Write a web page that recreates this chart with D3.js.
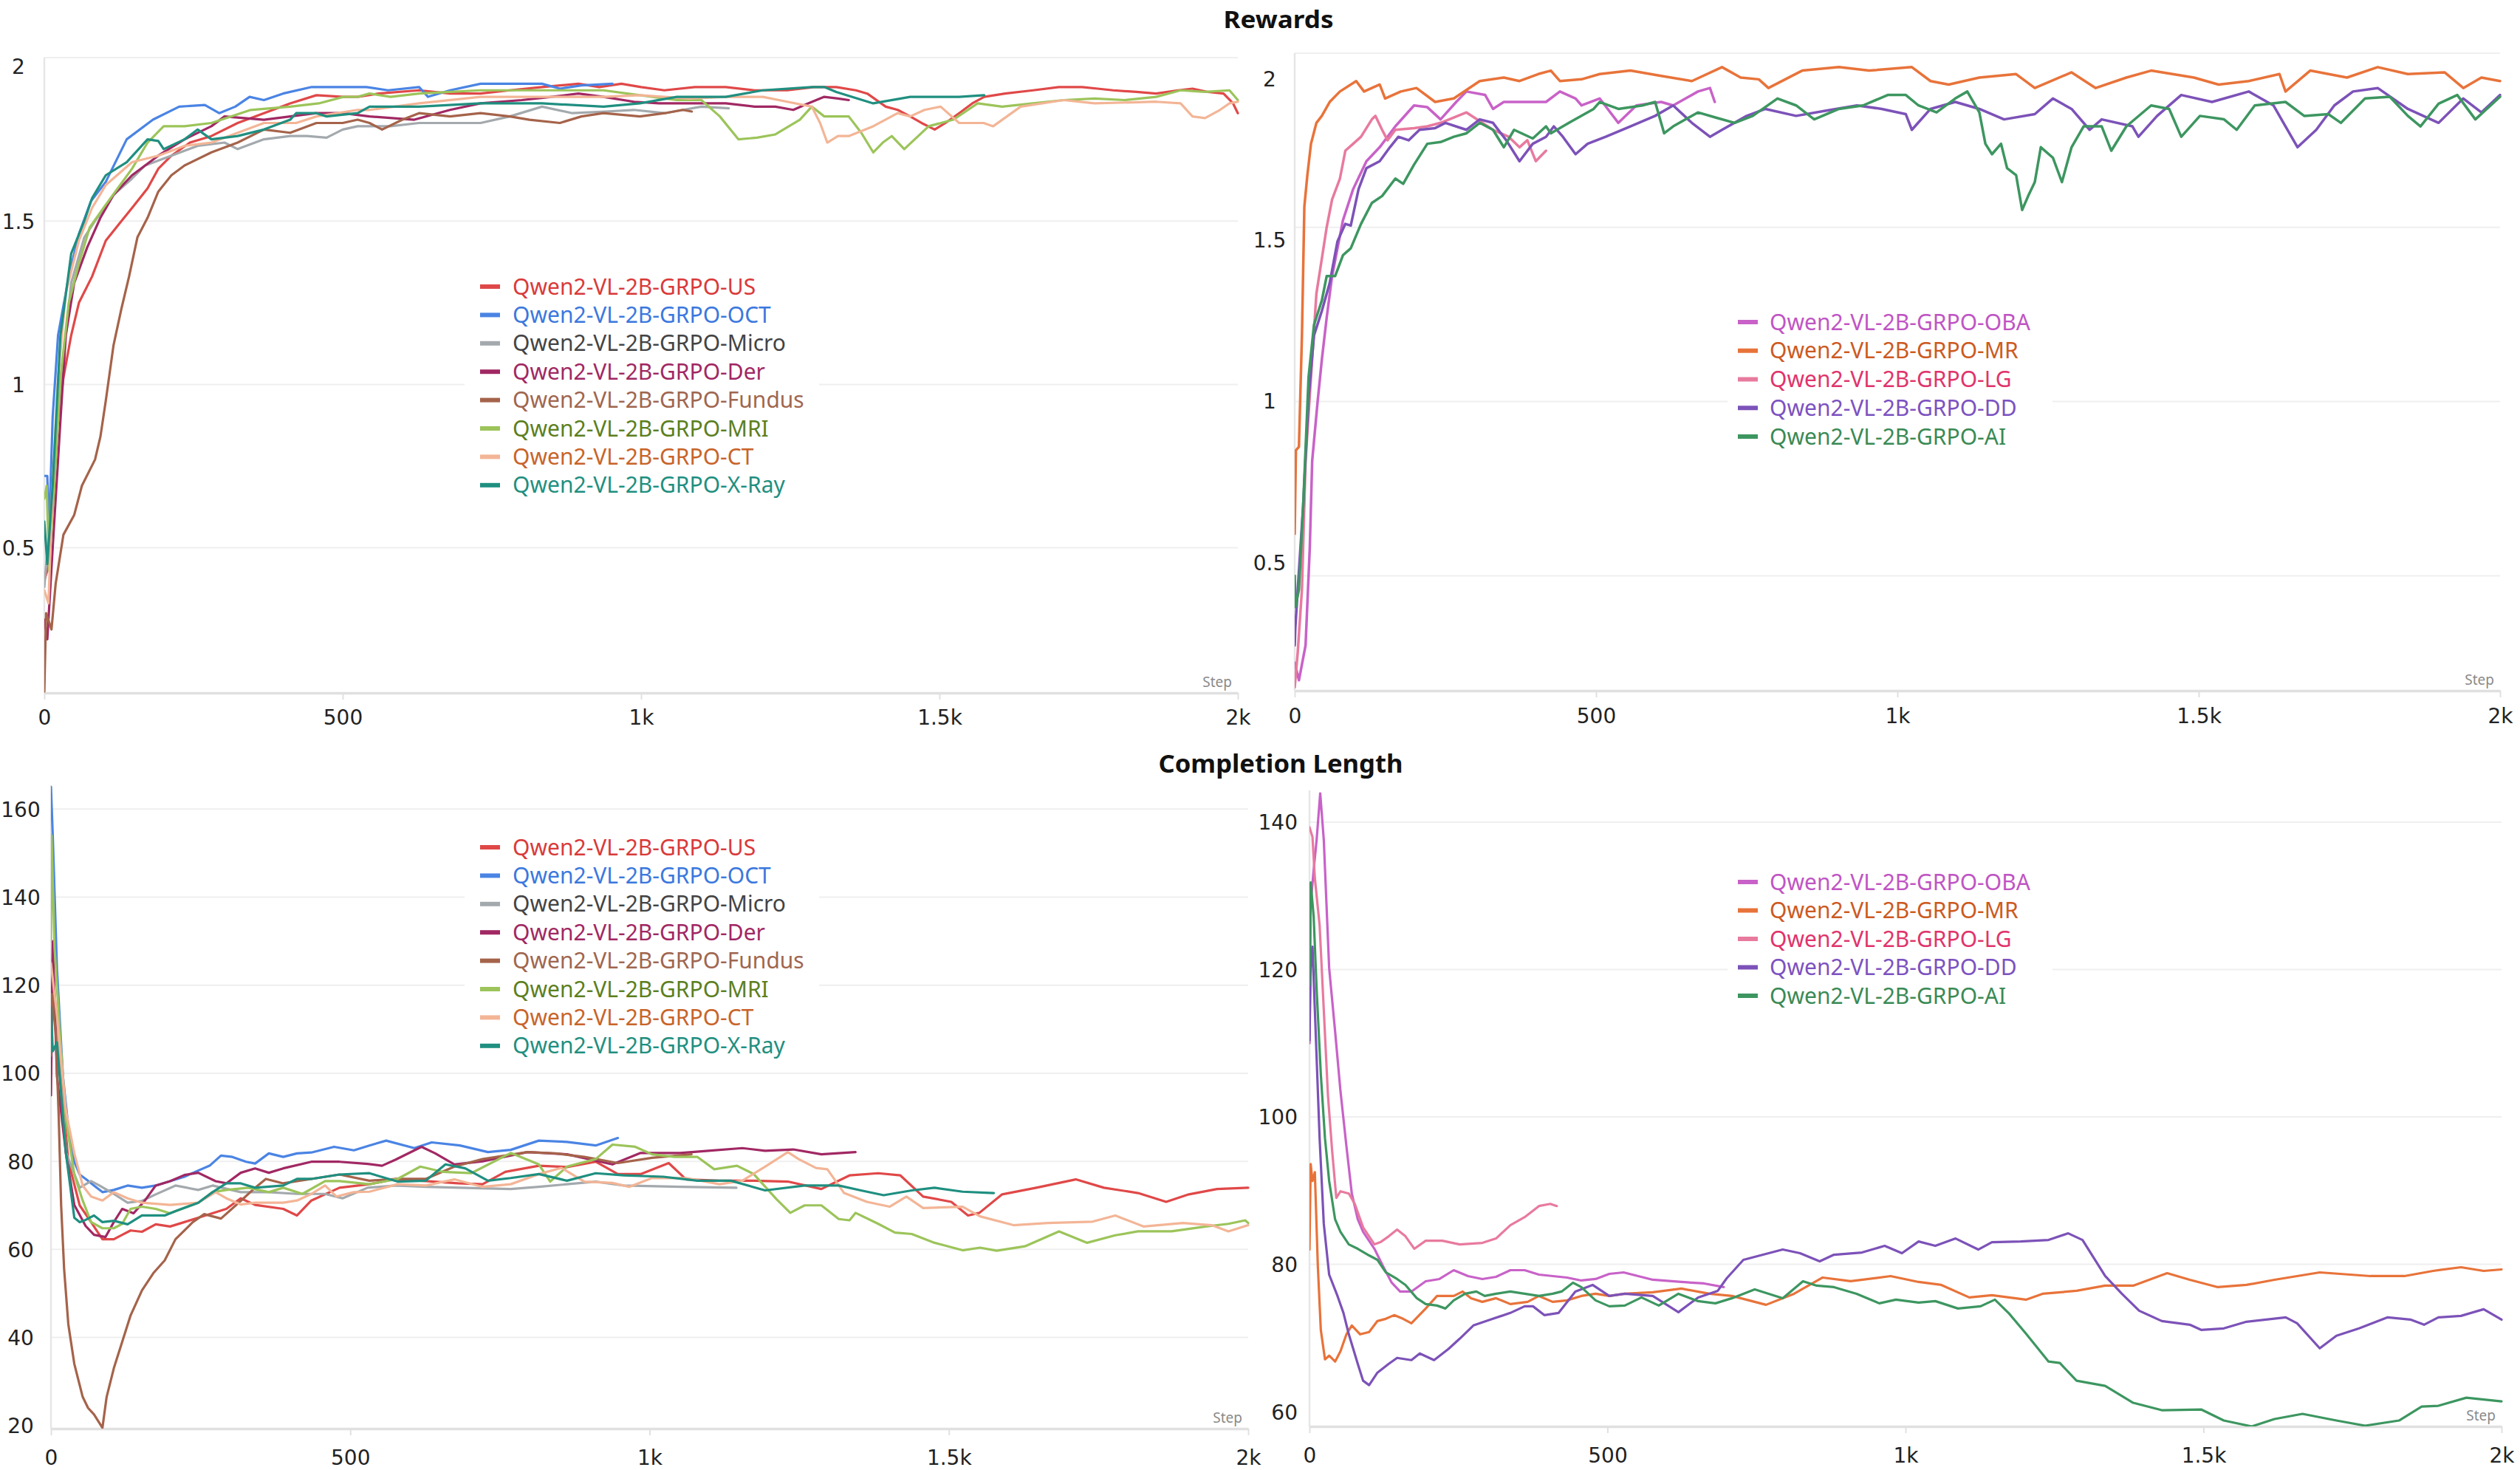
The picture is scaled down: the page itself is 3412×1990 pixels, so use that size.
<!DOCTYPE html>
<html><head><meta charset="utf-8">
<script src="https://cdn.jsdelivr.net/npm/d3@7"></script>
<style>html,body{margin:0;padding:0;background:#fff;}svg{display:block;}</style>
</head><body>
<script>
// ---------- DATA ----------
const stepTicks = [0, 500, 1000, 1500, 2000];
const rewardTicksL = [0.5, 1, 1.5, 2];
const rewardTicksR = [0.5, 1, 1.5, 2];
const lengthTicksL = [20, 40, 60, 80, 100, 120, 140, 160];
const lengthTicksR = [60, 80, 100, 120, 140];

const namesL = ["Qwen2-VL-2B-GRPO-US","Qwen2-VL-2B-GRPO-OCT","Qwen2-VL-2B-GRPO-Micro","Qwen2-VL-2B-GRPO-Der","Qwen2-VL-2B-GRPO-Fundus","Qwen2-VL-2B-GRPO-MRI","Qwen2-VL-2B-GRPO-CT","Qwen2-VL-2B-GRPO-X-Ray"];
const namesR = ["Qwen2-VL-2B-GRPO-OBA","Qwen2-VL-2B-GRPO-MR","Qwen2-VL-2B-GRPO-LG","Qwen2-VL-2B-GRPO-DD","Qwen2-VL-2B-GRPO-AI"];
const lineColorsL = ["#e04848","#4a84e4","#a3a9ad","#a12863","#a5634a","#9cc45a","#f3b596","#1f8f80"];
const textColorsL = ["#d93a3a","#3b78de","#444444","#a12863","#a0664f","#5c7f1e","#c8642a","#1f8f80"];
const lineColorsR = ["#c862c8","#e8733a","#e87a9e","#7c52b8","#3d9660"];
const textColorsR = ["#bf55c4","#cc5a1f","#e0346c","#7c52c0","#3a8a55"];

// Rewards, left panel
const rewUS = [[0,0.4],[8,0.45],[20,0.85],[32,1.02],[45,1.15],[58,1.25],[80,1.33],[103,1.44],[125,1.49],[147,1.54],[173,1.6],[191,1.66],[213,1.70],[244,1.74],[280,1.76],[324,1.80],[368,1.83],[412,1.86],[456,1.885],[501,1.88],[525,1.88],[560,1.89],[628,1.90],[680,1.89],[731,1.89],[780,1.9],[834,1.91],[895,1.92],[930,1.91],[967,1.92],[1000,1.91],[1039,1.90],[1090,1.91],[1142,1.91],[1190,1.90],[1245,1.90],[1290,1.91],[1327,1.91],[1360,1.90],[1379,1.89],[1410,1.85],[1430,1.84],[1451,1.82],[1470,1.80],[1492,1.78],[1510,1.80],[1533,1.83],[1555,1.86],[1575,1.88],[1610,1.89],[1657,1.90],[1700,1.91],[1739,1.91],[1765,1.905],[1791,1.90],[1830,1.895],[1863,1.89],[1900,1.90],[1924,1.905],[1950,1.895],[1976,1.89],[1992,1.86],[2000,1.83]];
const rewOCT = [[0,0.72],[5,0.72],[8,0.55],[14,0.9],[23,1.15],[41,1.33],[58,1.46],[78,1.56],[103,1.62],[138,1.75],[182,1.81],[226,1.85],[269,1.855],[293,1.83],[320,1.85],[344,1.88],[368,1.87],[400,1.89],[448,1.91],[501,1.91],[540,1.91],[576,1.90],[628,1.91],[643,1.88],[680,1.90],[731,1.92],[782,1.92],[834,1.92],[864,1.905],[900,1.915],[952,1.92]];
const rewMicro = [[0,0.38],[10,0.6],[20,0.85],[32,1.08],[45,1.31],[67,1.45],[85,1.50],[116,1.58],[147,1.63],[169,1.67],[213,1.70],[257,1.73],[302,1.74],[324,1.72],[368,1.75],[412,1.76],[440,1.76],[473,1.755],[500,1.78],[525,1.79],[580,1.79],[628,1.80],[680,1.80],[731,1.80],[780,1.82],[834,1.85],[885,1.83],[940,1.835],[988,1.84],[1039,1.83],[1101,1.85],[1147,1.845]];
const rewDer = [[0,0.28],[5,0.22],[14,0.5],[27,0.89],[36,1.15],[50,1.31],[72,1.42],[94,1.51],[116,1.58],[147,1.64],[191,1.70],[235,1.75],[280,1.79],[302,1.82],[368,1.81],[456,1.83],[500,1.83],[545,1.82],[620,1.81],[680,1.84],[731,1.86],[800,1.87],[850,1.88],[895,1.89],[937,1.88],[988,1.865],[1030,1.86],[1080,1.86],[1142,1.86],[1190,1.85],[1225,1.85],[1255,1.84],[1280,1.86],[1307,1.88],[1330,1.875],[1348,1.87]];
const rewFundus = [[0,0.06],[3,0.30],[12,0.25],[19,0.39],[32,0.54],[50,0.60],[63,0.69],[85,0.77],[94,0.84],[103,0.95],[116,1.12],[129,1.23],[142,1.33],[156,1.45],[173,1.51],[191,1.59],[213,1.64],[235,1.67],[280,1.71],[324,1.74],[368,1.78],[412,1.77],[456,1.80],[500,1.80],[525,1.81],[545,1.80],[566,1.78],[600,1.81],[628,1.83],[680,1.82],[731,1.83],[780,1.82],[813,1.81],[864,1.80],[900,1.82],[937,1.83],[998,1.82],[1040,1.83],[1070,1.84],[1085,1.835]];
const rewMRI = [[0,0.65],[4,0.69],[8,0.43],[19,0.76],[27,1.02],[41,1.25],[58,1.37],[76,1.48],[103,1.55],[147,1.66],[173,1.74],[200,1.79],[235,1.79],[280,1.80],[346,1.84],[412,1.85],[460,1.86],[501,1.88],[525,1.88],[545,1.89],[580,1.88],[628,1.89],[680,1.895],[731,1.90],[834,1.90],[937,1.90],[998,1.885],[1060,1.87],[1101,1.87],[1132,1.82],[1163,1.75],[1194,1.755],[1225,1.765],[1266,1.81],[1286,1.85],[1307,1.82],[1348,1.82],[1369,1.77],[1389,1.71],[1405,1.74],[1420,1.76],[1441,1.72],[1482,1.79],[1523,1.81],[1564,1.86],[1605,1.85],[1657,1.86],[1708,1.87],[1760,1.875],[1811,1.87],[1863,1.88],[1904,1.90],[1945,1.895],[1986,1.90],[2000,1.87]];
const rewCT = [[0,0.37],[7,0.33],[14,0.69],[23,1.02],[36,1.28],[58,1.44],[80,1.54],[103,1.61],[147,1.68],[191,1.70],[235,1.73],[280,1.74],[324,1.77],[368,1.80],[422,1.80],[456,1.82],[525,1.84],[545,1.84],[628,1.86],[731,1.88],[834,1.88],[937,1.88],[998,1.885],[1080,1.875],[1142,1.88],[1204,1.88],[1245,1.865],[1286,1.85],[1300,1.80],[1312,1.74],[1330,1.76],[1348,1.76],[1389,1.79],[1430,1.83],[1451,1.82],[1475,1.84],[1502,1.85],[1533,1.80],[1574,1.80],[1590,1.79],[1636,1.85],[1708,1.87],[1760,1.86],[1863,1.865],[1904,1.86],[1924,1.82],[1945,1.815],[1970,1.84],[1986,1.86],[2000,1.865]];
const rewXRay = [[0,0.58],[5,0.45],[14,0.69],[27,1.15],[45,1.40],[67,1.50],[80,1.57],[103,1.64],[138,1.68],[173,1.75],[191,1.745],[200,1.72],[235,1.75],[257,1.78],[280,1.75],[324,1.76],[368,1.78],[412,1.81],[422,1.83],[456,1.83],[473,1.82],[525,1.83],[545,1.85],[628,1.85],[731,1.86],[834,1.86],[937,1.85],[998,1.86],[1060,1.88],[1142,1.88],[1204,1.90],[1286,1.91],[1307,1.91],[1327,1.895],[1389,1.86],[1451,1.88],[1533,1.88],[1575,1.885]];

// Rewards, right panel
const rewOBA = [[0,0.25],[7,0.20],[18,0.30],[25,0.58],[29,0.83],[38,1.0],[45,1.12],[53,1.24],[62,1.36],[80,1.52],[97,1.61],[119,1.69],[141,1.73],[167,1.79],[198,1.85],[220,1.845],[242,1.81],[268,1.86],[285,1.89],[316,1.88],[329,1.84],[347,1.86],[373,1.86],[417,1.86],[440,1.89],[466,1.87],[476,1.85],[506,1.87],[537,1.80],[567,1.85],[608,1.86],[628,1.85],[669,1.89],[689,1.90],[697,1.86]];
const rewMR = [[0,0.62],[2,0.86],[7,0.87],[12,1.19],[16,1.56],[21,1.65],[27,1.74],[36,1.80],[45,1.82],[58,1.86],[75,1.89],[102,1.92],[115,1.89],[141,1.91],[150,1.87],[176,1.89],[202,1.90],[233,1.86],[264,1.87],[307,1.92],[347,1.93],[373,1.92],[404,1.94],[425,1.95],[440,1.92],[476,1.925],[506,1.94],[557,1.95],[608,1.935],[659,1.92],[709,1.96],[740,1.93],[770,1.925],[786,1.90],[842,1.95],[903,1.96],[953,1.95],[1024,1.96],[1055,1.92],[1085,1.91],[1136,1.93],[1197,1.94],[1228,1.90],[1289,1.945],[1329,1.90],[1380,1.93],[1421,1.95],[1492,1.93],[1533,1.91],[1583,1.92],[1634,1.94],[1644,1.89],[1685,1.95],[1746,1.93],[1797,1.96],[1847,1.94],[1908,1.945],[1939,1.90],[1969,1.93],[2000,1.92]];
const rewLG = [[0,0.18],[5,0.28],[12,0.46],[18,0.83],[27,1.07],[36,1.31],[45,1.41],[53,1.50],[62,1.58],[75,1.64],[84,1.72],[97,1.74],[110,1.76],[128,1.81],[134,1.82],[145,1.78],[154,1.75],[167,1.78],[198,1.785],[220,1.79],[242,1.80],[285,1.83],[329,1.78],[355,1.76],[373,1.73],[386,1.75],[400,1.69],[417,1.72]];
const rewDD = [[0,0.30],[1,0.35],[5,0.46],[14,0.70],[23,1.01],[32,1.19],[45,1.26],[58,1.34],[71,1.46],[84,1.51],[93,1.505],[106,1.61],[119,1.67],[141,1.69],[158,1.73],[172,1.76],[189,1.75],[207,1.78],[233,1.785],[250,1.80],[285,1.78],[307,1.81],[329,1.80],[351,1.75],[373,1.69],[395,1.74],[417,1.76],[430,1.79],[445,1.76],[466,1.71],[486,1.74],[516,1.76],[557,1.79],[598,1.82],[628,1.85],[659,1.80],[689,1.76],[709,1.78],[750,1.82],[781,1.84],[832,1.82],[882,1.835],[933,1.85],[974,1.84],[1014,1.825],[1024,1.78],[1055,1.84],[1096,1.86],[1136,1.84],[1177,1.81],[1228,1.825],[1258,1.87],[1289,1.84],[1319,1.78],[1339,1.81],[1390,1.79],[1400,1.76],[1431,1.82],[1471,1.88],[1522,1.86],[1583,1.89],[1624,1.85],[1644,1.79],[1664,1.73],[1695,1.78],[1725,1.85],[1756,1.89],[1797,1.90],[1847,1.84],[1898,1.80],[1939,1.87],[1969,1.83],[2000,1.88]];
const rewAI = [[0,0.50],[1,0.41],[7,0.46],[14,0.70],[23,1.07],[32,1.22],[45,1.29],[53,1.36],[67,1.36],[80,1.42],[93,1.44],[110,1.51],[128,1.57],[145,1.59],[167,1.64],[180,1.625],[198,1.68],[220,1.74],[242,1.745],[264,1.76],[285,1.77],[307,1.80],[329,1.78],[347,1.73],[364,1.78],[395,1.755],[417,1.79],[425,1.77],[455,1.80],[496,1.84],[506,1.86],[537,1.84],[577,1.85],[598,1.86],[613,1.77],[628,1.79],[669,1.83],[699,1.815],[730,1.80],[760,1.82],[801,1.87],[832,1.85],[862,1.81],[903,1.84],[943,1.85],[984,1.88],[1014,1.88],[1035,1.85],[1065,1.83],[1096,1.87],[1116,1.89],[1136,1.83],[1146,1.74],[1157,1.71],[1172,1.74],[1182,1.67],[1197,1.65],[1207,1.55],[1217,1.59],[1228,1.63],[1238,1.73],[1258,1.70],[1273,1.63],[1289,1.73],[1309,1.79],[1339,1.79],[1355,1.72],[1380,1.79],[1421,1.85],[1451,1.84],[1471,1.76],[1502,1.82],[1542,1.81],[1563,1.78],[1593,1.85],[1644,1.86],[1675,1.82],[1715,1.825],[1736,1.80],[1776,1.87],[1817,1.875],[1847,1.82],[1868,1.79],[1898,1.855],[1929,1.88],[1959,1.81],[2000,1.875]];

// Completion length, left panel
const lenUS = [[0,112],[3,115],[10,109],[29,80],[48,70],[67,66.2],[86,62.3],[105,62.3],[119,63.3],[133,64.3],[152,64],[175,65.7],[199,65.2],[223,66.2],[246,67.2],[293,69.2],[317,71.6],[341,70.1],[388,69.2],[411,67.7],[435,71.1],[482,74],[532,74.8],[576,76],[626,75.5],[680,75],[721,74.8],[759,77.6],[815,79],[862,78.7],[910,79.9],[947,77.1],[985,77.1],[1032,79.6],[1061,75.9],[1117,75.6],[1174,75.6],[1231,75.4],[1287,73.7],[1334,76.8],[1382,77.3],[1419,76.8],[1457,72],[1504,70.8],[1532,67.7],[1551,68.3],[1589,72.5],[1646,74],[1712,75.9],[1759,74],[1816,72.8],[1863,70.8],[1901,72.5],[1948,73.7],[2000,74]];
const lenOCT = [[0,165],[3,154],[10,123.7],[20,99.3],[29,87.7],[39,79.9],[48,77],[58,76],[72,74.5],[86,73],[105,73.5],[128,74.5],[152,74],[175,74.5],[199,75.5],[223,76.5],[246,77.9],[265,79],[284,81.3],[303,81],[326,79.9],[341,79.5],[364,81.8],[388,81],[411,81.8],[435,82],[473,83.3],[506,82.5],[532,83.6],[560,84.7],[607,83],[636,84.3],[683,83.6],[730,82.1],[768,82.6],[815,84.7],[862,84.4],[910,83.6],[947,85.3]];
const lenMicro = [[0,118],[3,125],[10,110],[25,82],[48,74],[67,75.5],[81,74.5],[105,72.6],[128,70.6],[152,71],[175,72.5],[208,74.5],[246,73.5],[270,74.5],[317,73],[364,73],[411,72.6],[458,72.6],[487,71.6],[529,74],[576,74.5],[626,74.2],[683,74],[768,73.7],[815,74.2],[910,75.4],[957,74.5],[1051,74.2],[1145,74]];
const lenDer = [[0,95],[3,130],[10,99.3],[25,81.8],[39,70.1],[58,65.3],[72,63.3],[91,62.8],[105,66.2],[119,69.2],[138,68.2],[157,71.1],[175,74.5],[199,75.5],[223,76.9],[246,77.4],[275,75.5],[293,75],[317,77.4],[341,78.4],[364,77.4],[388,78.4],[435,79.9],[482,79.9],[529,79.4],[553,79],[576,80.4],[619,83.3],[642,81.8],[674,79.3],[721,80],[796,82.1],[862,81.6],[938,79.3],[985,81.9],[1051,81.9],[1098,82.4],[1155,83],[1193,82.4],[1240,82.7],[1287,81.6],[1344,82.1]];
const lenFundus = [[0,104],[2,118],[8,109],[13,90],[17,70],[22,55.5],[29,43],[39,34],[53,26.5],[62,24],[72,22.5],[86,19.5],[93,26.5],[105,33],[119,39],[133,45],[152,50.7],[171,54.6],[190,57.5],[208,62.3],[237,66.2],[256,68],[284,67],[317,71],[341,74],[359,76],[388,75],[435,76],[482,77],[532,75.6],[576,76],[626,76],[674,78.8],[721,80.5],[796,82.1],[843,81.8],[891,81],[947,79.6],[1004,80.8],[1070,81.6]];
const lenMRI = [[0,130],[1,154],[6,128.6],[15,109],[25,89.6],[39,77],[53,71.1],[67,66.2],[86,64.8],[105,64.8],[119,65.8],[133,69.2],[152,69.7],[175,69.2],[199,68.2],[246,70.6],[270,73],[293,73.5],[330,74],[364,73],[388,74],[420,72.6],[458,75.5],[482,75.5],[532,74.8],[579,76],[617,78.8],[655,77.6],[702,77.3],[768,81.9],[815,79.3],[834,75.4],[862,78.8],[910,80.5],[938,83.8],[976,83.3],[1004,81.6],[1042,81],[1080,81],[1108,78.2],[1146,79],[1174,77.1],[1212,71.4],[1235,68.3],[1259,70],[1287,70],[1316,66.9],[1334,66.6],[1344,68.3],[1382,65.8],[1410,63.8],[1438,63.5],[1476,61.5],[1523,59.8],[1552,60.4],[1580,59.7],[1627,60.7],[1684,64.1],[1731,61.5],[1778,63.2],[1816,64.1],[1872,64.1],[1929,65.2],[1967,65.8],[1995,66.6],[2000,66]];
const lenCT = [[0,125],[10,113],[25,91.5],[39,81.8],[53,74.5],[67,72],[86,71.1],[105,73],[128,71.6],[152,70.6],[199,70.1],[246,70.6],[275,73],[293,71.6],[317,70.2],[341,70.6],[388,70.6],[411,71.1],[435,72.6],[458,74.5],[477,72],[506,73],[532,73.1],[579,74.8],[626,74.5],[674,75.9],[721,74.2],[768,74.8],[815,77.1],[853,78.5],[891,75.4],[938,75.1],[966,74.2],[1004,76.2],[1061,76.2],[1117,74.8],[1155,75.6],[1193,78.8],[1231,82.1],[1249,80.5],[1278,78.5],[1297,78.2],[1325,72.8],[1363,70.8],[1401,69.7],[1429,72],[1457,69.4],[1523,69.7],[1552,67.5],[1608,65.5],[1665,66],[1740,66.3],[1778,67.7],[1825,65.2],[1891,66],[1939,65.5],[1967,64.1],[2000,65.5]];
const lenXRay = [[0,115],[3,105],[10,107],[25,81.8],[39,67.2],[48,66.2],[58,66.7],[72,67.7],[86,66.2],[105,66.5],[128,65.7],[152,67.7],[190,67.7],[208,68.7],[246,70.6],[270,73],[293,75],[317,75],[341,74],[388,74.5],[411,76],[435,76],[482,77],[532,77.3],[579,75.4],[626,75.6],[659,79.3],[692,78.4],[730,75.6],[768,76.2],[815,77.1],[862,75.6],[910,77.3],[957,76.8],[1023,76.5],[1080,75.6],[1136,75.6],[1193,73.4],[1259,74.5],[1316,74.5],[1353,73.4],[1391,72.3],[1438,73.4],[1476,74],[1523,73.1],[1575,72.8]];

// Completion length, right panel
const lenOBA = [[0,110],[2,128.9],[7,133.5],[12,137.6],[18,143.9],[24,137.6],[33,120.2],[43,111.6],[52,103.5],[62,96],[71,89.6],[81,86.1],[90,84.4],[109,82.1],[123,79.8],[138,77.5],[152,76.3],[171,76.3],[195,77.7],[218,78],[242,79.2],[266,78.4],[290,78],[313,78.3],[337,79.2],[361,79.2],[385,78.6],[432,78.2],[456,77.8],[480,78],[503,78.7],[527,78.9],[576,77.9],[624,77.6],[662,77.4],[695,76.9]];
const lenMR = [[0,82],[2,93.6],[5,91.3],[9,92.5],[14,79.8],[19,71.1],[26,67.1],[33,67.6],[43,66.8],[52,68.2],[62,70.5],[71,71.7],[85,70.5],[100,70.8],[114,72.3],[128,72.6],[142,73.1],[157,72.6],[171,72],[195,74],[214,75.7],[242,75.7],[257,76.3],[271,75.4],[290,74.9],[313,75.4],[337,74.6],[366,74.9],[385,75.7],[408,74.9],[432,75.1],[456,75.7],[480,76],[503,75.7],[529,76],[576,76.2],[624,76.7],[671,76],[709,75.7],[766,74.5],[813,76],[861,78.2],[908,77.7],[975,78.4],[1022,77.6],[1060,77.2],[1107,75.5],[1145,75.8],[1202,75.2],[1230,76],[1287,76.4],[1335,77.1],[1382,77.1],[1439,78.8],[1477,77.9],[1524,76.9],[1572,77.2],[1619,77.9],[1695,78.9],[1780,78.4],[1837,78.4],[1885,79.1],[1932,79.6],[1970,79.1],[2000,79.3]];
const lenLG = [[0,139.3],[5,138],[9,132.4],[17,126],[24,114.5],[31,102.9],[38,95.4],[45,89],[52,89.9],[66,89.6],[76,88.2],[90,85],[109,82.7],[119,83],[133,83.8],[147,84.7],[161,83.8],[176,82.1],[195,83.2],[223,83.2],[252,82.7],[290,82.9],[313,83.5],[337,85.3],[361,86.4],[385,87.9],[404,88.2],[415,87.9]];
const lenDD = [[0,110.4],[2,120.2],[5,123.1],[9,114.5],[17,97.1],[24,85.5],[33,78.6],[47,75.7],[57,73.4],[66,70.5],[81,66.5],[90,64.2],[100,63.6],[114,65.3],[133,66.5],[147,67.3],[171,67],[185,67.9],[209,67],[233,68.5],[252,69.9],[275,71.7],[304,72.5],[337,73.4],[361,74.3],[375,74.3],[394,73.1],[418,73.4],[446,76.3],[475,77.2],[503,75.7],[529,76],[576,75.7],[619,73.5],[652,75.5],[685,76.4],[700,78.1],[728,80.6],[794,82],[823,81.5],[856,80.4],[880,81.3],[927,81.6],[965,82.5],[994,81.5],[1022,83.1],[1050,82.5],[1084,83.5],[1122,82],[1145,83],[1193,83.1],[1240,83.3],[1273,84.2],[1297,83.3],[1335,78.4],[1363,76],[1392,73.7],[1430,72.3],[1477,71.8],[1496,71.1],[1534,71.3],[1572,72.2],[1638,72.8],[1657,72],[1695,68.6],[1723,70.3],[1761,71.3],[1809,72.8],[1847,72.5],[1870,71.8],[1894,72.8],[1932,73],[1970,73.9],[2000,72.5]];
const lenAI = [[0,117.9],[2,131.8],[7,127.2],[12,117.3],[19,105.8],[26,97.1],[33,91.3],[43,86.1],[52,84.4],[66,82.7],[81,82.1],[100,81.2],[114,80.6],[128,78.9],[147,78],[161,77.2],[180,75.4],[195,74.6],[214,74.4],[228,74],[242,75.1],[261,76],[280,76.3],[294,75.7],[313,76],[337,76.3],[361,76],[385,75.7],[408,76],[423,76.3],[442,77.5],[456,76.9],[480,75.1],[503,74.3],[529,74.4],[557,75.5],[586,74.4],[619,76],[652,75],[681,74.7],[709,75.4],[747,76.6],[794,75.4],[828,77.7],[851,77.1],[880,76.9],[918,76],[956,74.7],[984,75.2],[1022,74.8],[1050,75],[1088,74],[1126,74.3],[1150,75.2],[1174,73.3],[1202,70.6],[1240,66.8],[1259,66.6],[1287,64.2],[1335,63.5],[1382,61.2],[1430,60.2],[1496,60.3],[1534,58.8],[1581,58],[1619,59],[1666,59.7],[1723,58.8],[1771,58.1],[1828,58.8],[1866,60.7],[1894,60.8],[1941,61.9],[2000,61.4]];

// ---------- DRAWING ----------
const W = 3412, H = 1990;
const svg = d3.select("body").append("svg").attr("width", W).attr("height", H)
  .attr("viewBox", `0 0 ${W} ${H}`);
svg.append("rect").attr("width", W).attr("height", H).attr("fill", "#fff");

const tickFont = "'DejaVu Sans', sans-serif";
const textFont = "'Noto Sans', 'Open Sans', sans-serif";

function fmtStep(d) {
  if (d === 0) return "0";
  if (d >= 1000) return (d / 1000) + "k";
  return String(d);
}

let clipId = 0;
function drawPanel(p) {
  const x = d3.scaleLinear([0, 2000], [p.x0, p.x1]);
  const y = d3.scaleLinear(p.yDomain, [p.y1, p.y0]);
  const labelScale = p.labelScale || y;
  const g = svg.append("g");

  // gridlines
  g.append("g").selectAll("line").data(p.yTicks.filter(v => v > p.yDomain[0] + 0.3 * (p.yTicks[1]-p.yTicks[0]) ))
    .join("line")
    .attr("x1", p.x0).attr("x2", p.x1)
    .attr("y1", d => y(d)).attr("y2", d => y(d))
    .attr("stroke", "#efefef").attr("stroke-width", 2);

  // left axis line
  g.append("line").attr("x1", p.x0).attr("x2", p.x0).attr("y1", p.y0).attr("y2", p.y1)
    .attr("stroke", "#e6e6e6").attr("stroke-width", 2.5);

  // x axis
  const xa = g.append("g").attr("transform", `translate(0,${p.y1})`)
    .call(d3.axisBottom(x).tickValues(stepTicks).tickFormat(fmtStep)
      .tickSize(9).tickSizeOuter(0).tickPadding(p.xPad));
  xa.select(".domain").attr("stroke", "#e0e0e0").attr("stroke-width", 3.5);
  xa.selectAll(".tick line").attr("stroke", "#e0e0e0").attr("stroke-width", 2);
  xa.selectAll(".tick text").attr("font-family", tickFont).attr("font-size", 28).attr("fill", "#222");

  // y axis labels
  const ya = g.append("g").attr("transform", `translate(${p.x0},0)`)
    .call(d3.axisLeft(labelScale).tickValues(p.yTicks).tickFormat(d => String(d)).tickSize(0));
  ya.select(".domain").remove();
  ya.selectAll(".tick text")
    .attr("font-family", tickFont).attr("font-size", 28).attr("fill", "#222")
    .attr("text-anchor", p.labelAnchor).attr("x", p.labelX - p.x0)
    .attr("dy", d => (p.labelShift && p.labelShift[d] ? p.labelShift[d] : 0) + 10);

  // clip
  const cid = "clip" + (clipId++);
  svg.append("clipPath").attr("id", cid).append("rect")
    .attr("x", p.x0).attr("y", p.y0 - 2).attr("width", p.x1 - p.x0 + 2).attr("height", p.y1 - p.y0 + 2);

  const line = d3.line().x(d => x(d[0])).y(d => y(d[1]));
  g.append("g").attr("clip-path", `url(#${cid})`).selectAll("path").data(p.series)
    .join("path")
    .attr("d", d => line(d.data))
    .attr("fill", "none").attr("stroke", d => d.color)
    .attr("stroke-width", p.lw).attr("stroke-linejoin", "round").attr("stroke-linecap", "round");

  // Step label
  g.append("text").attr("x", p.x1 - 8).attr("y", p.y1 - 8).attr("text-anchor", "end")
    .attr("font-family", textFont).attr("font-size", 19).attr("fill", "#8a8a8a").text("Step");

  // legend
  const L = p.legend;
  g.append("rect").attr("x", L.box[0]).attr("y", L.box[1]).attr("width", L.box[2]).attr("height", L.box[3]).attr("fill", "#fff");
  const items = g.append("g").selectAll("g").data(p.series).join("g")
    .attr("transform", (d, i) => `translate(0,${L.y + i * L.step})`);
  items.append("line").attr("x1", L.mx).attr("x2", L.mx + 27).attr("y1", 0).attr("y2", 0)
    .attr("stroke", d => d.color).attr("stroke-width", 6);
  items.append("text").attr("x", L.tx).attr("y", 10.5)
    .attr("font-family", textFont).attr("font-size", 30).attr("fill", d => d.textColor)
    .text(d => d.name);
}

const leftRew = [rewUS, rewOCT, rewMicro, rewDer, rewFundus, rewMRI, rewCT, rewXRay];
const rightRew = [rewOBA, rewMR, rewLG, rewDD, rewAI];
const leftLen = [lenUS, lenOCT, lenMicro, lenDer, lenFundus, lenMRI, lenCT, lenXRay];
const rightLen = [lenOBA, lenMR, lenLG, lenDD, lenAI];
const mk = (names, data, lc, tc) => names.map((n, i) => ({ name: n, data: data[i], color: lc[i], textColor: tc[i] }));

// Titles
svg.append("text").attr("x", 1731).attr("y", 38).attr("text-anchor", "middle")
  .attr("font-family", textFont).attr("font-weight", "bold").attr("font-size", 32)
  .attr("textLength", 149).attr("lengthAdjust", "spacingAndGlyphs").attr("fill", "#111").text("Rewards");
svg.append("text").attr("x", 1734).attr("y", 1046).attr("text-anchor", "middle")
  .attr("font-family", textFont).attr("font-weight", "bold").attr("font-size", 34)
  .attr("textLength", 331).attr("lengthAdjust", "spacingAndGlyphs").attr("fill", "#111").text("Completion Length");

// Top-left
drawPanel({
  x0: 60, x1: 1676, y0: 78, y1: 938, yDomain: [0.056, 2.0], yTicks: rewardTicksL,
  labelAnchor: "middle", labelX: 25, labelShift: { 2: 11 }, xPad: 14, lw: 3.2,
  series: mk(namesL, leftRew, lineColorsL, textColorsL),
  legend: { box: [629, 362, 480, 318], y: 388, step: 38.4, mx: 650, tx: 694 }
});
// Top-right
drawPanel({
  x0: 1753, x1: 3385, y0: 72, y1: 935, yDomain: [0.17, 2.0], yTicks: rewardTicksR,
  labelScale: d3.scaleLinear([0.5, 2], [761, 106]),
  labelAnchor: "middle", labelX: 1719, xPad: 15, lw: 3.5,
  series: mk(namesR, rightRew, lineColorsR, textColorsR),
  legend: { box: [2339, 410, 440, 205], y: 436, step: 38.75, mx: 2353, tx: 2396 }
});
// Bottom-left
drawPanel({
  x0: 69, x1: 1690, y0: 1063, y1: 1934, yDomain: [19.3, 165.4], yTicks: lengthTicksL,
  labelAnchor: "middle", labelX: 28, xPad: 20, lw: 3.2,
  series: mk(namesL, leftLen, lineColorsL, textColorsL),
  legend: { box: [629, 1122, 480, 318], y: 1147, step: 38.4, mx: 650, tx: 694 }
});
// Bottom-right
drawPanel({
  x0: 1773, x1: 3387, y0: 1070, y1: 1931, yDomain: [58, 144.3], yTicks: lengthTicksR,
  labelAnchor: "end", labelX: 1757, xPad: 20, lw: 3.2,
  series: mk(namesR, rightLen, lineColorsR, textColorsR),
  legend: { box: [2339, 1170, 440, 205], y: 1194, step: 38.5, mx: 2353, tx: 2396 }
});
</script>
</body></html>
